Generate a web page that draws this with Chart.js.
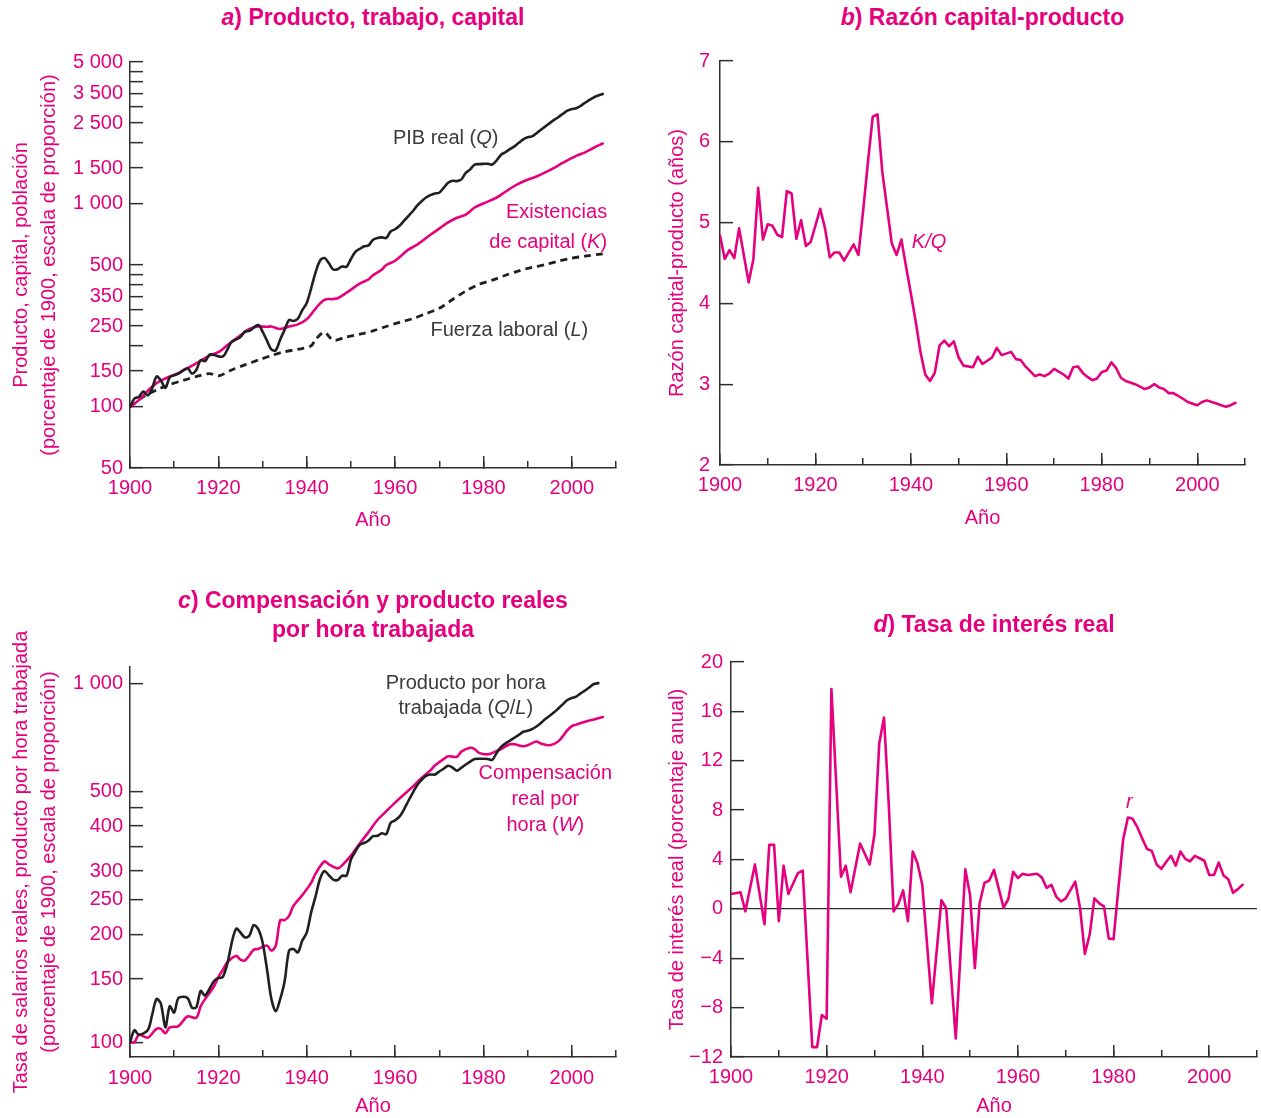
<!DOCTYPE html>
<html>
<head>
<meta charset="utf-8">
<script src="https://cdn.jsdelivr.net/npm/chart.js@4.4.1/dist/chart.umd.min.js"></script>
<style>
  body { margin: 0; background: #fff; width: 1261px; height: 1118px; position: relative; overflow: hidden; }
  canvas { position: absolute; }
  .title { position: absolute; z-index: 2; color: #e5007e; font: bold 23px 'Liberation Sans', Arial, sans-serif; text-align: center; line-height: 29px; }
</style>
</head>
<body>
<div class="title" style="left:130px;top:3px;width:486px"><i>a</i>) Producto, trabajo, capital</div>
<div class="title" style="left:720px;top:3px;width:525px"><i>b</i>) Razón capital-producto</div>
<div class="title" style="left:130px;top:586px;width:486px"><i>c</i>) Compensación y producto reales<br>por hora trabajada</div>
<div class="title" style="left:731px;top:610px;width:526px"><i>d</i>) Tasa de interés real</div>

<canvas id="chartA" width="630" height="500" style="left:0;top:40px"></canvas>
<canvas id="chartB" width="621" height="500" style="left:640px;top:40px"></canvas>
<canvas id="chartC" width="630" height="543" style="left:0;top:575px"></canvas>
<canvas id="chartD" width="621" height="543" style="left:640px;top:575px"></canvas>

<script>
// ---------- data ----------
// a) real GDP (Q), capital stock (K), labour force (L), index 1900 = 100
const yearsQ = [1900,1901,1902,1903,1904,1905,1906,1907,1908,1909,1910,1911,
  1913,1914,1915,1916,1917,1918,1919,1921,1922,1923,1925,1926,1927,1929,
  1930,1931,1932,1933,1934,1935,1936,1937,1938,1939,1940,1941,1942,1943,1944,1945,1946,1947,1948,1949,
  1950,1951,1952,1953,1954,1955,1956,1957,1958,1959,
  1960,1961,1962,1963,1964,1965,1966,1967,1968,1969,
  1970,1971,1972,1973,1974,1975,1976,1977,1978,1979,
  1980,1981,1982,1983,1984,1985,1986,1987,1988,1989,
  1990,1991,1992,1993,1994,1995,1996,1997,1998,1999,
  2000,2001,2002,2003,2004,2005,2006,2007];
const valuesQ = [100,110,112,119,114,123,141,135,124,140,143,146,
  155,146,152,170,168,181,180,177,191,209,221,235,237,253,
  235,212,192,190,215,240,268,265,272,300,325,384,460,525,541,511,475,477,492,490,
  535,580,600,618,625,665,680,684,680,731,
  750,780,825,870,920,980,1030,1075,1105,1125,
  1135,1200,1270,1300,1295,1320,1420,1480,1560,1570,
  1575,1575,1563,1640,1746,1800,1860,1920,2000,2080,
  2130,2150,2230,2320,2406,2500,2592,2680,2780,2880,
  2930,2960,3040,3150,3250,3350,3420,3480];

const yearsK = [1900,1902,1904,1906,1908,1911,1913,1915,1918,1920,
  1922,1925,1927,1929,1931,1932,1934,1936,1938,1940,
  1942,1944,1946,1947,1949,1952,1954,1955,1957,1958,
  1960,1963,1965,1968,1970,1972,1974,1976,1978,1980,
  1983,1984,1987,1989,1992,1994,1996,1998,2001,2003,
  2005,2007];
const valuesK = [100,108,120,131,138,147,155,164,179,186,
  201,225,242,249,248,249,242,249,255,270,
  305,337,340,343,365,405,425,445,475,500,
  525,595,630,705,755,810,855,885,960,1005,
  1075,1110,1225,1290,1365,1430,1505,1595,1725,1795,
  1890,1984];

const yearsL = [1900,1903,1906,1909,1912,1915,1918,1920,1923,1926,
  1929,1932,1935,1938,1941,1942,1944,1946,1949,1952,
  1955,1958,1961,1964,1967,1970,1973,1976,1979,1982,
  1985,1988,1991,1994,1997,2000,2003,2007];
const valuesL = [100,112,121,129,135,141,146,142,152,161,
  170,179,187,192,200,215,233,213,221,228,
  237,249,261,272,288,306,338,372,402,421,
  445,468,487,502,523,540,553,567];

// b) capital-output ratio K/Q (years)
const yearsKQ = [1900,1901,1902,1903,1904,1906,1907,1908,1909,1910,
  1911,1912,1913,1914,1915,1916,1917,1918,1919,1921,
  1922,1923,1924,1925,1926,1928,1929,1930,1931,1932,
  1933,1934,1936,1937,1938,1939,1940,1941,1942,1943,
  1944,1945,1946,1947,1948,1949,1950,1951,1953,1954,
  1955,1957,1958,1959,1961,1962,1963,1964,1966,1967,
  1968,1969,1970,1972,1973,1974,1975,1976,1977,1978,
  1979,1980,1981,1982,1983,1984,1985,1987,1988,1989,
  1990,1991,1992,1993,1994,1995,1997,1998,2000,2001,
  2002,2004,2005,2006,2007,2008];
const valuesKQ = [4.84,4.55,4.66,4.56,4.93,4.26,4.55,5.43,4.79,4.98,
  4.96,4.85,4.82,5.39,5.36,4.80,5.03,4.71,4.76,5.17,
  4.93,4.57,4.63,4.63,4.53,4.73,4.60,5.15,5.75,6.31,
  6.34,5.63,4.74,4.60,4.79,4.45,4.12,3.78,3.40,3.12,
  3.04,3.14,3.48,3.54,3.47,3.53,3.33,3.23,3.21,3.34,
  3.25,3.33,3.45,3.36,3.40,3.31,3.30,3.22,3.10,3.12,
  3.10,3.13,3.19,3.12,3.07,3.21,3.22,3.14,3.09,3.05,
  3.07,3.15,3.17,3.27,3.20,3.08,3.04,3.00,2.97,2.94,
  2.96,3.00,2.96,2.94,2.89,2.89,2.82,2.78,2.74,2.78,
  2.80,2.76,2.74,2.72,2.74,2.77];

// c) output per hour (Q/L) and real compensation per hour (W), 1900 = 100
const yearsQL = [1900,1901,1902,1904,1905,1906,1907,1908,1909,1910,
  1911,1913,1914,1915,1916,1917,1919,1920,1921,1922,
  1924,1926,1927,1928,1929,
  1930,1931,1932,1933,1934,1935,1936,1937,1938,1939,
  1940,1941,1942,1943,1944,1945,1946,1947,1948,1949,
  1950,1951,1952,1953,1954,1955,1956,1957,1958,1959,
  1960,1961,1962,1963,1964,1965,1966,1967,1968,1969,
  1970,1971,1972,1973,1974,1975,1976,1977,1978,1979,
  1980,1981,1982,1983,1984,1985,1986,1987,1988,1989,
  1990,1991,1992,1993,1994,1995,1996,1997,1998,1999,
  2000,2001,2002,2003,2004,2005,2006];
const valuesQL = [100,108,105,108,119,132,128,110,126,121,
  133,133,125,125,139,135,148,151,152,165,
  207,196,198,212,207,
  190,160,132,122,132,148,180,182,178,192,
  202,230,255,285,300,292,284,283,291,291,
  323,340,355,359,365,375,376,382,380,409,
  415,425,445,470,495,520,538,552,557,557,
  568,578,589,582,571,582,594,605,615,616,
  616,615,612,640,665,680,692,705,718,733,
  737,745,758,775,795,812,830,852,875,898,
  910,918,937,955,975,995,1001];

const yearsW = [1900,1901,1902,1904,1906,1907,1908,1909,1911,1913,
  1915,1916,1917,1919,1920,1921,1922,1924,1925,1926,
  1928,1929,1931,1932,1933,1934,1935,1936,1937,1939,
  1941,1942,1944,1945,1947,1948,1950,1952,1954,1956,
  1958,1960,1962,1964,1966,1968,1969,1971,1972,1974,
  1975,1977,1978,1979,1981,1983,1984,1986,1987,1989,
  1990,1992,1993,1995,1997,1999,2000,2001,2003,2005,
  2007];
const valuesW = [100,100,105,103,109,109,106,110,111,118,
  117,126,132,143,152,159,167,174,170,169,
  181,182,186,180,186,219,219,225,240,257,
  278,295,319,313,305,311,331,358,385,416,
  440,465,490,515,545,572,590,615,626,624,
  645,661,656,640,634,648,656,676,676,668,
  672,688,680,672,690,740,760,767,781,793,
  805];

// d) real interest rate r (% per year)
const yearsR = [1900,1902,1903,1905,1907,1908,1909,1910,1911,1912,
  1914,1915,1917,1918,1919,1920,1921,1923,1924,1925,
  1927,1929,1930,1931,1932,1933,1934,1935,1936,1937,
  1938,1939,1940,1942,1944,1945,1947,1949,1950,1951,
  1952,1953,1954,1955,1957,1958,1959,1960,1961,1962,
  1964,1965,1966,1967,1968,1969,1970,1972,1973,1974,
  1975,1976,1977,1978,1979,1980,1981,1982,1983,1984,
  1985,1986,1987,1988,1989,1990,1991,1992,1993,1994,
  1995,1996,1997,1998,1999,2000,2001,2002,2003,2004,
  2005,2006,2007];
const valuesR = [1.2,1.35,-0.2,3.6,-1.25,5.2,5.2,-1.0,3.5,1.2,
  2.9,3.1,-11.2,-11.2,-8.6,-8.9,17.8,2.6,3.5,1.35,
  5.3,3.6,6.0,13.4,15.5,8.4,-0.2,0.4,1.5,-1.0,
  4.65,3.7,1.95,-7.65,0.7,0.05,-10.5,3.2,1.1,-4.8,
  0.46,2.1,2.3,3.16,0.1,0.8,3.0,2.5,2.85,2.75,
  2.85,2.55,1.7,1.95,1.0,0.6,0.85,2.2,0.05,-3.65,
  -2.1,0.85,0.45,0.2,-2.4,-2.45,1.6,5.6,7.4,7.3,
  6.6,5.7,4.85,4.7,3.6,3.25,3.8,4.3,3.5,4.65,
  4.05,3.85,4.3,4.1,3.9,2.75,2.75,3.75,2.7,2.4,
  1.3,1.6,1.95];

// ---------- ticks ----------
const xLabelYears = [1900, 1920, 1940, 1960, 1980, 2000];
const xMinorYears = [1900, 1910, 1920, 1930, 1940, 1950, 1960, 1970, 1980, 1990, 2000, 2010];
const ticksA = [50, 100, 150, 200, 250, 300, 350, 400, 450, 500, 1000, 1500, 2000, 2500, 3000, 3500, 4000, 4500, 5000];
const labelsA = [50, 100, 150, 250, 350, 500, 1000, 1500, 2500, 3500, 5000];
const ticksB = [2, 3, 4, 5, 6, 7];
const ticksC = [100, 150, 200, 250, 300, 350, 400, 450, 500, 1000];
const labelsC = [100, 150, 200, 250, 300, 400, 500, 1000];
const ticksD = [-12, -8, -4, 0, 4, 8, 12, 16, 20];

// ---------- styling ----------
const MAGENTA = '#e5007e';
const INK = '#231f20';
const AXIS = '#2e2e2e';
const GREY = '#3a3a3a';
const FAMILY = '"Liberation Sans", Arial, sans-serif';

// inline labels on the plots: [text, italic]
const notesA = [
  { at: [1959.5, 2110], align: 'left', color: GREY, parts: [['PIB real (', 0], ['Q', 1], [')', 0]] },
  { at: [2008, 912], align: 'right', color: MAGENTA, parts: [['Existencias', 0]] },
  { at: [2008, 649], align: 'right', color: MAGENTA, parts: [['de capital (', 0], ['K', 1], [')', 0]] },
  { at: [1968, 239], align: 'left', color: GREY, parts: [['Fuerza laboral (', 0], ['L', 1], [')', 0]] }
];
const notesB = [
  { at: [1940.2, 4.75], align: 'left', color: MAGENTA, parts: [['K/Q', 1]] }
];
const notesC = [
  { at: [1976, 1000], align: 'center', color: GREY, parts: [['Producto por hora', 0]] },
  { at: [1976, 849], align: 'center', color: GREY, parts: [['trabajada (', 0], ['Q', 1], ['/', 0], ['L', 1], [')', 0]] },
  { at: [1994, 560], align: 'center', color: MAGENTA, parts: [['Compensación', 0]] },
  { at: [1994, 474], align: 'center', color: MAGENTA, parts: [['real por', 0]] },
  { at: [1994, 402], align: 'center', color: MAGENTA, parts: [['hora (', 0], ['W', 1], [')', 0]] }
];
const notesD = [
  { at: [1983.3, 8.6], align: 'center', color: MAGENTA, parts: [['r', 1]] }
];

function points(xs, ys) {
  return xs.map((x, i) => ({ x: x, y: ys[i] }));
}

function fmt(v) {
  const s = String(Math.abs(v));
  const t = s.length > 3 ? s.slice(0, -3) + '\u00a0' + s.slice(-3) : s;
  return v < 0 ? '\u2212' + t : t;
}

function notesPlugin(items) {
  return {
    id: 'notes',
    afterDatasetsDraw(chart) {
      const ctx = chart.ctx;
      items.forEach(n => {
        const px = chart.scales.x.getPixelForValue(n.at[0]);
        const py = chart.scales.y.getPixelForValue(n.at[1]);
        const font = it => (it ? 'italic ' : '') + '20px ' + FAMILY;
        ctx.save();
        ctx.fillStyle = n.color;
        ctx.textBaseline = 'middle';
        ctx.textAlign = 'left';
        const w = n.parts.map(([t, it]) => { ctx.font = font(it); return ctx.measureText(t).width; });
        const total = w.reduce((a, b) => a + b, 0);
        let x = n.align === 'right' ? px - total : n.align === 'center' ? px - total / 2 : px;
        n.parts.forEach(([t, it], i) => { ctx.font = font(it); ctx.fillText(t, x, py); x += w[i]; });
        ctx.restore();
      });
    }
  };
}

function line(data, color, width, extra) {
  return Object.assign({
    data: data, borderColor: color, borderWidth: width, pointRadius: 0,
    fill: false, tension: 0, borderJoinStyle: 'round', borderCapStyle: 'round'
  }, extra || {});
}

function panel(id, p) {
  const tickFont = { family: FAMILY, size: 20, lineHeight: 1.2 };
  return new Chart(document.getElementById(id), {
    type: 'line',
    data: { datasets: p.datasets },
    plugins: [notesPlugin(p.notes)],
    options: {
      responsive: false,
      animation: false,
      devicePixelRatio: 1,
      layout: { padding: p.padding },
      plugins: { legend: { display: false }, tooltip: { enabled: false }, title: { display: false } },
      scales: {
        x: {
          type: 'linear', min: 1900, max: 2010,
          afterBuildTicks: s => { s.ticks = xLabelYears.map(v => ({ value: v })); },
          afterFit: s => { s.height = p.xHeight; s.paddingLeft = 0; s.paddingRight = 0; },
          border: { color: AXIS, width: 1.5 },
          grid: { drawOnChartArea: false, tickLength: -12, color: AXIS, lineWidth: 1.5 },
          ticks: { autoSkip: false, maxRotation: 0, padding: p.xLabelPad, color: MAGENTA, font: tickFont,
                   callback: v => String(v) },
          title: { display: true, text: 'Año', color: MAGENTA,
                   font: { family: FAMILY, size: 20, lineHeight: '24px' },
                   padding: { top: 0, bottom: p.xTitlePad } }
        },
        xMinor: {
          axis: 'x', type: 'linear', min: 1900, max: 2010, position: { y: p.yMin },
          afterBuildTicks: s => { s.ticks = xMinorYears.map(v => ({ value: v })); },
          afterFit: s => { s.height = 0; s.paddingLeft = 0; s.paddingRight = 0; },
          border: { display: false },
          grid: { drawOnChartArea: false, tickLength: -7, color: AXIS, lineWidth: 1.5 },
          ticks: { display: false }
        },
        y: {
          type: p.yType, min: p.yMin, max: p.yMax,
          afterBuildTicks: s => { s.ticks = p.yTicks.map(v => ({ value: v })); },
          afterFit: s => { s.width = p.yWidth; s.paddingTop = 0; s.paddingBottom = 0; },
          border: { color: AXIS, width: 1.5 },
          grid: {
            drawOnChartArea: !!p.zeroLine,
            tickLength: -13,
            color: c => (p.zeroLine && c.tick && c.tick.value === 0) ? AXIS : 'rgba(0,0,0,0)',
            tickColor: AXIS, lineWidth: 1.3, tickWidth: 1.5
          },
          ticks: { autoSkip: false, padding: p.yLabelPad, color: MAGENTA, font: tickFont,
                   callback: v => p.yLabels.includes(v) ? fmt(v) : '' },
          title: { display: true, text: p.yTitle, color: MAGENTA,
                   font: { family: FAMILY, size: 20, lineHeight: '28px' },
                   padding: { top: p.yTitlePad, bottom: 0 } }
        }
      }
    }
  });
}

// a) Producto, trabajo, capital
panel('chartA', {
  datasets: [
    line(points(yearsQ, valuesQ), INK, 2.6, { tension: 0.35 }),
    line(points(yearsK, valuesK), MAGENTA, 2.6, { tension: 0.35 }),
    line(points(yearsL, valuesL), INK, 2.8, { tension: 0.3, borderDash: [7, 5], borderCapStyle: 'butt' })
  ],
  notes: notesA,
  padding: { top: 22, right: 14, left: 0, bottom: 0 },
  yType: 'logarithmic', yMin: 50, yMax: 5000, yTicks: ticksA, yLabels: labelsA,
  yWidth: 130, xHeight: 72, yLabelPad: 20, xLabelPad: 20, yTitlePad: 7, xTitlePad: 8,
  yTitle: ['Producto, capital, población', '(porcentaje de 1900, escala de proporción)']
});

// b) Razón capital-producto
panel('chartB', {
  datasets: [ line(points(yearsKQ, valuesKQ), MAGENTA, 2.6) ],
  notes: notesB,
  padding: { top: 21, right: 16, left: 0, bottom: 0 },
  yType: 'linear', yMin: 2, yMax: 7, yTicks: ticksB, yLabels: ticksB,
  yWidth: 80, xHeight: 75, yLabelPad: 23, xLabelPad: 20, yTitlePad: 23, xTitlePad: 10,
  yTitle: 'Razón capital-producto (años)'
});

// c) Compensación y producto reales por hora trabajada
panel('chartC', {
  datasets: [
    line(points(yearsQL, valuesQL), INK, 2.6, { tension: 0.3 }),
    line(points(yearsW, valuesW), MAGENTA, 2.6, { tension: 0.3 })
  ],
  notes: notesC,
  padding: { top: 92, right: 14, left: 0, bottom: 0 },
  yType: 'logarithmic', yMin: 91, yMax: 1110, yTicks: ticksC, yLabels: labelsC,
  yWidth: 130, xHeight: 61, yLabelPad: 20, xLabelPad: 21, yTitlePad: 7, xTitlePad: 0,
  yTitle: ['Tasa de salarios reales, producto por hora trabajada', '(porcentaje de 1900, escala de proporción)']
});

// d) Tasa de interés real
panel('chartD', {
  datasets: [ line(points(yearsR, valuesR), MAGENTA, 2.6) ],
  notes: notesD,
  padding: { top: 87, right: 4, left: 0, bottom: 0 },
  yType: 'linear', yMin: -12, yMax: 20, yTicks: ticksD, yLabels: ticksD, zeroLine: true,
  yWidth: 91, xHeight: 61, yLabelPad: 21, xLabelPad: 20, yTitlePad: 23, xTitlePad: 0,
  yTitle: 'Tasa de interés real (porcentaje anual)'
});
</script>
</body>
</html>
